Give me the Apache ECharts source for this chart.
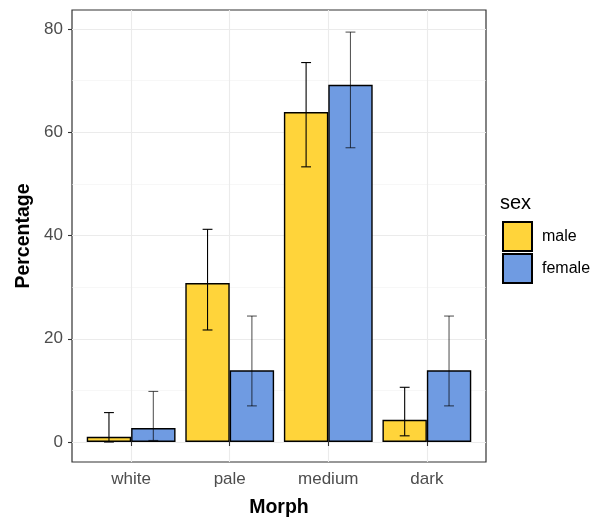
<!DOCTYPE html>
<html>
<head>
<meta charset="utf-8">
<script src="https://cdn.jsdelivr.net/npm/echarts@6/dist/echarts.min.js"></script>
<style>
html, body { margin: 0; padding: 0; background: #fff; }
#chart { width: 592px; height: 519px; }
</style>
</head>
<body>
<div id="chart"></div>
<script type="text/javascript">
// data
var morphs = ['white', 'pale', 'medium', 'dark'];
var malePct = [1.0, 30.8, 63.9, 4.3];
var femalePct = [2.7, 13.9, 69.2, 13.9];
var maleLo = [0.0, 21.7, 53.3, 1.2];
var maleHi = [5.7, 41.2, 73.5, 10.6];
var femaleLo = [0.3, 7.0, 57.0, 7.0];
var femaleHi = [9.8, 24.4, 79.4, 24.4];
var yTicks = [0, 20, 40, 60, 80];
var yMinor = [10, 30, 50, 70];
var xPos = [1, 2, 3, 4];

var font = 'Liberation Sans, Arial, sans-serif';
var yellow = '#FFD43A';
var blue = '#6F9BE2';

function barData(vals) {
	return vals.map(function (v, i) { return [xPos[i], v]; });
}
function errData(lo, hi) {
	return lo.map(function (v, i) { return [xPos[i], v, hi[i]]; });
}
// dodge: each bar is 0.45 wide, so centers sit 0.225 from the category
function errRender(off, color) {
	return function (params, api) {
		var x = api.value(0) + off;
		var top = api.coord([x, api.value(2)]);
		var bot = api.coord([x, api.value(1)]);
		var hw = api.size([0.1, 0])[0] / 2;
		var st = { stroke: color, lineWidth: 1.1 };
		return {
			type: 'group',
			children: [
				{ type: 'line', shape: { x1: top[0], y1: top[1], x2: bot[0], y2: bot[1] }, style: st },
				{ type: 'line', shape: { x1: top[0] - hw, y1: top[1], x2: top[0] + hw, y2: top[1] }, style: st },
				{ type: 'line', shape: { x1: bot[0] - hw, y1: bot[1], x2: bot[0] + hw, y2: bot[1] }, style: st }
			]
		};
	};
}

var myChart = echarts.init(document.getElementById('chart'));
var option = {
	animation: false,
	backgroundColor: '#fff',
	textStyle: { fontFamily: font },
	title: {
		text: 'sex', left: 500, top: 193, padding: 0,
		textStyle: { fontFamily: font, fontSize: 20, fontWeight: 'normal', color: '#000' }
	},
	legend: {
		data: ['male', 'female'],
		orient: 'vertical', left: 502, top: 221, padding: 0,
		icon: 'rect', itemWidth: 29, itemHeight: 29, itemGap: 1,
		textStyle: { fontFamily: font, fontSize: 16, color: '#000', padding: [0, 0, 0, 5] }
	},
	grid: {
		left: 72, top: 10, width: 414, height: 452,
		outerBoundsMode: 'none', containLabel: false,
		show: true, borderColor: '#333', borderWidth: 1.2, backgroundColor: '#fff'
	},
	xAxis: {
		type: 'value', min: 0.4, max: 4.6,
		name: 'Morph', nameLocation: 'middle', nameGap: 36,
		nameTextStyle: { fontFamily: font, fontSize: 19.5, fontWeight: 'bold', color: '#000' },
		axisLine: { show: false },
		axisTick: { show: true, customValues: xPos, length: 4, lineStyle: { color: '#333', width: 1.1 } },
		axisLabel: {
			customValues: xPos, fontSize: 17, color: '#4d4d4d', margin: 9,
			formatter: function (v) { return morphs[Math.round(v) - 1]; }
		},
		splitLine: { show: true, lineStyle: { color: '#ebebeb', width: 1.1 } }
	},
	yAxis: [{
		type: 'value', min: -3.87, max: 83.68,
		name: 'Percentage', nameLocation: 'middle', nameGap: 37,
		nameTextStyle: { fontFamily: font, fontSize: 19.5, fontWeight: 'bold', color: '#000' },
		axisLine: { show: false },
		axisTick: { show: true, customValues: yTicks, length: 4, lineStyle: { color: '#333', width: 1.1 } },
		axisLabel: { customValues: yTicks, fontSize: 17, color: '#4d4d4d', margin: 9 },
		splitLine: { show: true, lineStyle: { color: '#ebebeb', width: 1.1 } }
	}, {
		type: 'value', min: -3.87, max: 83.68, position: 'left',
		axisLine: { show: false },
		axisTick: { show: false, customValues: yMinor },
		axisLabel: { show: false, customValues: yMinor },
		splitLine: { show: true, lineStyle: { color: '#f2f2f2', width: 0.6 } }
	}],
	series: [
		{
			name: 'male', type: 'bar', data: barData(malePct),
			barWidth: 44.4, barGap: '0%',
			itemStyle: { color: yellow, borderColor: '#000', borderWidth: 1.4 }
		},
		{
			name: 'female', type: 'bar', data: barData(femalePct),
			barWidth: 44.4, barGap: '0%',
			itemStyle: { color: blue, borderColor: '#000', borderWidth: 1.4 }
		},
		{
			type: 'custom', z: 10, silent: true,
			encode: { x: 0, y: [1, 2] },
			data: errData(maleLo, maleHi),
			renderItem: errRender(-0.225, '#000')
		},
		{
			type: 'custom', z: 10, silent: true,
			encode: { x: 0, y: [1, 2] },
			data: errData(femaleLo, femaleHi),
			renderItem: errRender(0.225, 'rgba(0,0,0,0.65)')
		}
	]
};
myChart.setOption(option);
</script>
</body>
</html>
